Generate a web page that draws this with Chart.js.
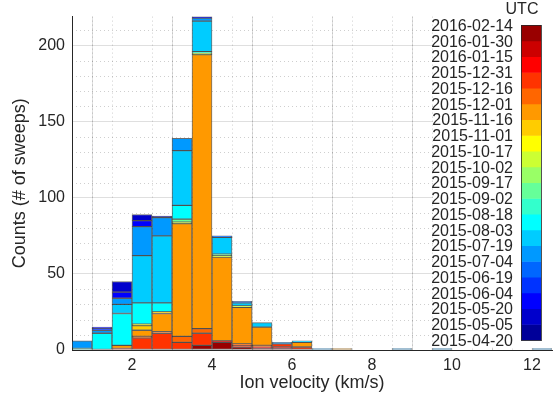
<!DOCTYPE html>
<html>
<head>
<meta charset="utf-8">
<script src="https://cdn.jsdelivr.net/npm/chart.js@4.4.0/dist/chart.umd.min.js"></script>
<style>
  html, body { margin: 0; padding: 0; background: #fff; }
  #wrap { width: 556px; height: 394px; }
</style>
</head>
<body>
<div id="wrap"><canvas id="hist"></canvas></div>
<script>
// =============================================
// Ion velocity histogram, stacked by 15-day period
// =============================================

// bin centres (km/s), bins are 0.5 wide
const binCenters = [0.75, 1.25, 1.75, 2.25, 2.75, 3.25, 3.75, 4.25, 4.75, 5.25, 5.75, 6.25,
                    6.75, 7.25, 7.75, 8.25, 8.75, 9.25, 9.75, 10.25, 10.75, 11.25, 11.75, 12.25];

const xTicks = [2, 4, 6, 8, 10, 12];
const yTicks = [0, 50, 100, 150, 200];

// colorbar tick labels (period edges, UTC)
const dateTicks = ['2015-04-20', '2015-05-05', '2015-05-20', '2015-06-04', '2015-06-19', '2015-07-04',
                   '2015-07-19', '2015-08-03', '2015-08-18', '2015-09-02', '2015-09-17', '2015-10-02',
                   '2015-10-17', '2015-11-01', '2015-11-16', '2015-12-01', '2015-12-16', '2015-12-31',
                   '2016-01-15', '2016-01-30', '2016-02-14'];

// jet(20), earliest period first
const periodColors = ['#000099', '#0000cc', '#0000ff', '#0033ff', '#0066ff', '#0099ff', '#00ccff',
                      '#00ffff', '#33ffcc', '#66ff99', '#99ff66', '#ccff33', '#ffff00', '#ffcc00',
                      '#ff9900', '#ff6600', '#ff3300', '#ff0000', '#cc0000', '#990000'];

// counts per bin for each period (p01 = 2015-04-20 .. 2015-05-05, ...)
const p01 = [0, 0, 0, 0, 1, 0, 0, 0, 0, 0, 0, 0, 0, 0, 0, 0, 0, 0, 0, 0, 0, 0, 0, 0];
const p02 = [0, 0, 7, 4, 0, 0, 1, 0, 0, 0, 0, 0, 0, 0, 0, 0, 0, 0, 0, 0, 0, 0, 0, 0];
const p03 = [0, 1, 4, 4, 0, 0, 0, 0, 0, 0, 0, 0, 0, 0, 0, 0, 0, 0, 0, 0, 0, 0, 0, 0];
const p04 = [0, 1, 0, 0, 0, 0, 0, 0, 0, 0, 0, 0, 0, 0, 0, 0, 0, 0, 0, 0, 0, 0, 0, 0];
const p05 = [0, 0, 0, 0, 0, 0, 0, 1, 1, 0, 0, 0, 0, 0, 0, 0, 0, 0, 0, 0, 0, 0, 0, 0];
const p06 = [5, 2, 4, 19, 12, 8, 2, 0, 0, 0, 1, 0, 1, 0, 0, 0, 1, 0, 1, 0, 0, 0, 0, 1];
const p07 = [0, 0, 6, 31, 44, 36, 20, 11, 2, 3, 0, 1, 0, 0, 0, 0, 0, 0, 0, 0, 0, 0, 0, 0];
const p08 = [0, 11, 21, 14, 6, 9, 0, 0, 0, 0, 0, 0, 0, 0, 0, 0, 0, 0, 0, 0, 0, 0, 0, 0];
const p09 = [1, 0, 0, 0, 0, 0, 1, 0, 0, 0, 0, 0, 0, 0, 0, 0, 0, 0, 0, 0, 0, 0, 0, 0];
const p10 = [0, 0, 0, 0, 0, 2, 0, 1, 0, 0, 0, 0, 0, 0, 0, 0, 0, 0, 0, 0, 0, 0, 0, 0];
const p11 = [0, 0, 0, 0, 0, 0, 0, 0, 0, 0, 0, 0, 0, 0, 0, 0, 0, 0, 0, 0, 0, 0, 0, 0];
const p12 = [0, 0, 0, 0, 0, 1, 1, 1, 1, 0, 0, 0, 0, 0, 0, 0, 0, 0, 0, 0, 0, 0, 0, 0];
const p13 = [0, 0, 0, 1, 0, 0, 0, 0, 0, 0, 0, 0, 0, 0, 0, 0, 0, 0, 0, 0, 0, 0, 0, 0];
const p14 = [0, 0, 0, 3, 1, 0, 0, 0, 0, 0, 0, 0, 0, 0, 0, 0, 0, 0, 0, 0, 0, 0, 0, 0];
const p15 = [0, 0, 2, 4, 12, 74, 180, 55, 24, 12, 0, 3, 0, 1, 0, 0, 0, 0, 0, 0, 0, 0, 0, 0];
const p16 = [0, 0, 0, 1, 1, 4, 3, 0, 1, 1, 0, 0, 0, 0, 0, 0, 0, 0, 0, 0, 0, 0, 0, 0];
const p17 = [0, 0, 1, 8, 11, 5, 8, 0, 1, 0, 2, 2, 0, 0, 0, 0, 0, 0, 0, 0, 0, 0, 0, 0];
const p18 = [0, 0, 0, 0, 0, 0, 0, 0, 0, 1, 0, 0, 0, 0, 0, 0, 0, 0, 0, 0, 0, 0, 0, 0];
const p19 = [0, 0, 0, 0, 0, 0, 0, 1, 0, 0, 1, 0, 0, 0, 0, 0, 0, 0, 0, 0, 0, 0, 0, 0];
const p20 = [0, 0, 0, 0, 0, 0, 3, 5, 2, 1, 1, 0, 0, 0, 0, 0, 0, 0, 0, 0, 0, 0, 0, 0];

const periods = [p01, p02, p03, p04, p05, p06, p07, p08, p09, p10,
                 p11, p12, p13, p14, p15, p16, p17, p18, p19, p20];

const TEXT = '#262626';
const FONT = '"Liberation Sans", Arial, Helvetica, sans-serif';

// latest period sits at the bottom of each stack
const datasets = periods.map((vals, i) => ({
  label: dateTicks[i] + ' to ' + dateTicks[i + 1],
  data: vals.map((v, j) => ({ x: binCenters[j], y: v || null })),
  backgroundColor: periodColors[i],
  borderColor: 'rgba(30,30,30,0.65)',
  borderWidth: 1,
  borderSkipped: false,
  barPercentage: 1,
  categoryPercentage: 1
})).reverse();

// minor dotted grid + white box + colorbar on the right
const colorbarPlugin = {
  id: 'colorbar',
  beforeDatasetsDraw(chart) {
    const { ctx, chartArea, scales } = chart;
    const xs = scales.x, ys = scales.y;
    ctx.save();
    ctx.strokeStyle = 'rgba(38,38,38,0.22)';
    ctx.lineWidth = 1;
    ctx.setLineDash([1, 3]);
    for (let v = 1; v < 12.5; v += 0.5) {
      if (v % 2 === 0) continue;
      const px = Math.round(xs.getPixelForValue(v)) + 0.5;
      ctx.beginPath();
      ctx.moveTo(px, chartArea.top);
      ctx.lineTo(px, chartArea.bottom);
      ctx.stroke();
    }
    for (let v = 10; v < 219; v += 10) {
      if (v % 50 === 0) continue;
      const py = Math.round(ys.getPixelForValue(v)) + 0.5;
      ctx.beginPath();
      ctx.moveTo(chartArea.left, py);
      ctx.lineTo(chartArea.right, py);
      ctx.stroke();
    }
    ctx.setLineDash([]);
    ctx.fillStyle = '#fff';
    ctx.fillRect(433, 0, chart.width - 433, 347.5);
    ctx.restore();
  },
  afterDraw(chart) {
    const ctx = chart.ctx;
    const left = 521, right = 541, top = 25, bottom = 340;
    const n = periodColors.length;
    const h = (bottom - top) / n;
    ctx.save();
    periodColors.forEach((c, i) => {
      ctx.fillStyle = c;
      ctx.fillRect(left, bottom - (i + 1) * h, right - left, h + 0.5);
    });
    ctx.strokeStyle = 'rgba(38,38,38,0.8)';
    ctx.lineWidth = 1;
    ctx.strokeRect(left + 0.5, top + 0.5, right - left, bottom - top);

    ctx.fillStyle = TEXT;
    ctx.font = '16px ' + FONT;
    ctx.textAlign = 'right';
    ctx.textBaseline = 'middle';
    dateTicks.forEach((d, k) => {
      ctx.fillText(d, 513, bottom - k * h + 1.5);
    });
    ctx.textAlign = 'center';
    ctx.fillText('UTC', 522, 10);
    ctx.restore();
  }
};

new Chart(document.getElementById('hist'), {
  type: 'bar',
  data: { datasets },
  plugins: [colorbarPlugin],
  options: {
    responsive: true, maintainAspectRatio: false,
    animation: false,
    layout: { padding: { left: 0, right: 4, top: 15, bottom: 0 } },
    plugins: { legend: { display: false }, tooltip: { enabled: false } },
    scales: {
      x: {
        type: 'linear', min: 0.5, max: 12.5, stacked: true, offset: false,
        afterBuildTicks: s => { s.ticks = xTicks.map(v => ({ value: v })); },
        afterFit: s => { s.height = 44; },
        grid: { color: 'rgba(38,38,38,0.15)', drawTicks: false },
        border: { color: TEXT, width: 1 },
        ticks: { color: TEXT, font: { family: FONT, size: 16 }, padding: 6, maxRotation: 0 },
        title: { display: true, text: 'Ion velocity (km/s)', color: TEXT,
                 font: { family: FONT, size: 18 }, padding: { top: 0, bottom: 0 } }
      },
      y: {
        min: 0, max: 219, stacked: true,
        afterBuildTicks: s => { s.ticks = yTicks.map(v => ({ value: v })); },
        afterFit: s => { s.width = 72; },
        grid: { color: 'rgba(38,38,38,0.15)', drawTicks: false },
        border: { color: TEXT, width: 1 },
        ticks: { color: TEXT, font: { family: FONT, size: 16 }, padding: 7 },
        title: { display: true, text: 'Counts (# of sweeps)', color: TEXT,
                 font: { family: FONT, size: 18 }, padding: { top: 9, bottom: 0 } }
      }
    }
  }
});
</script>
</body>
</html>
